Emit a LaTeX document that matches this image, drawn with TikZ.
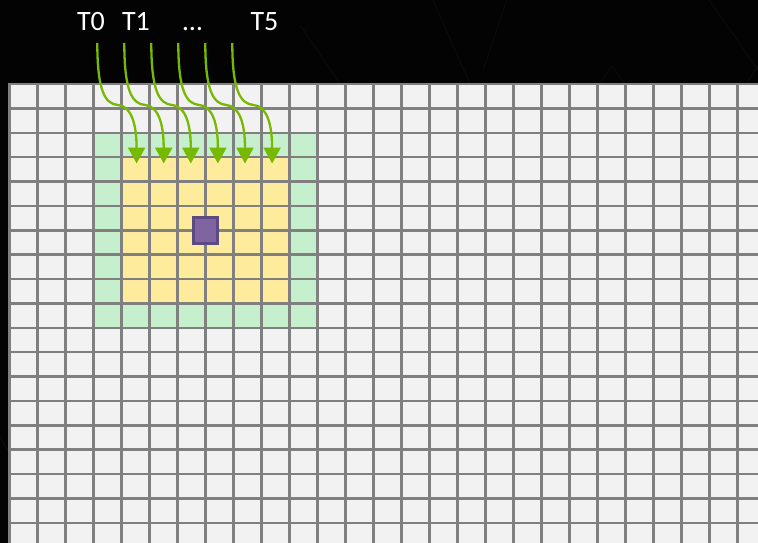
\documentclass[tikz,border=0pt]{standalone}
\usepackage{fontspec}
\setmainfont{Carlito}
\usetikzlibrary{arrows.meta}
\definecolor{bgblack}{HTML}{030303}
\definecolor{faint}{HTML}{0B0B0B}
\definecolor{cellgray}{HTML}{F2F2F2}
\definecolor{gridgray}{HTML}{808080}
\definecolor{halo}{HTML}{C6EFCE}
\definecolor{core}{HTML}{FFEB9C}
\definecolor{purplefill}{HTML}{8064A2}
\definecolor{purpleedge}{HTML}{5C4A85}
\definecolor{nvgreen}{HTML}{76B900}
\tikzset{
  lbl/.style={text=white, font=\fontsize{28}{30}\selectfont, anchor=base, inner sep=0pt},
  gridline/.style={draw=gridgray, line width=2.5pt},
  faintline/.style={draw=faint, line width=1pt},
  flow/.style={draw=nvgreen, line width=2.3pt, -{Triangle[width=17pt,length=16pt]}},
  center/.style={fill=purplefill, draw=purpleedge, line width=3pt, minimum width=24pt, minimum height=26pt, inner sep=0pt}
}
\begin{document}
\begin{tikzpicture}[x=1pt,y=-1pt]
\useasboundingbox (0,0) rectangle (758,543);
\fill[bgblack] (0,0) rectangle (758,543);
% faint background lines
\draw[faintline] (600,84) -- (611.5,66) -- (625,84);
\draw[faintline] (709,0) -- (758,70);
\draw[faintline] (746,84) -- (758,66);
\draw[faintline] (300,25) -- (340,84);
\draw[faintline] (433,0) -- (470,84);
\draw[faintline] (507,0) -- (483,70);
\draw[faintline] (0,437) -- (9,452);
% cells
\fill[cellgray] (9.5,84) rectangle (758,543);
\fill[halo] (93.5,132.76) rectangle (317.5,327.8);
\fill[core] (121.5,157.14) rectangle (289.5,303.42);
% grid
\foreach \k in {0,...,26} {
  \draw[gridline] ({9.5+28*\k},82.8) -- ({9.5+28*\k},543);
}
\foreach \k in {0,...,18} {
  \draw[gridline] (8.3,{84+24.38*\k}) -- (758,{84+24.38*\k});
}
% centre cell
\node[center] (c) at (205.5,230.3) {};
% labels
\node[lbl] (t0) at (91,31) {T0};
\node[lbl] (t1) at (136,31) {T1};
\node[lbl] (td) at (192.5,31) {…};
\node[lbl] (t5) at (264.5,31) {T5};
% arrows
\foreach \i in {0,...,5} {
  \coordinate (s\i) at ({97.3+27*\i},43);
  \coordinate (m\i) at ({118+27.1*\i},105);
  \coordinate (e\i) at ({136.6+27.1*\i},163.5);
  \draw[flow] (s\i) .. controls +(0,48) and +(-13,-1) .. (m\i)
     .. controls +(13,1) and +(0,-40) .. (e\i);
}
\end{tikzpicture}
\end{document}
